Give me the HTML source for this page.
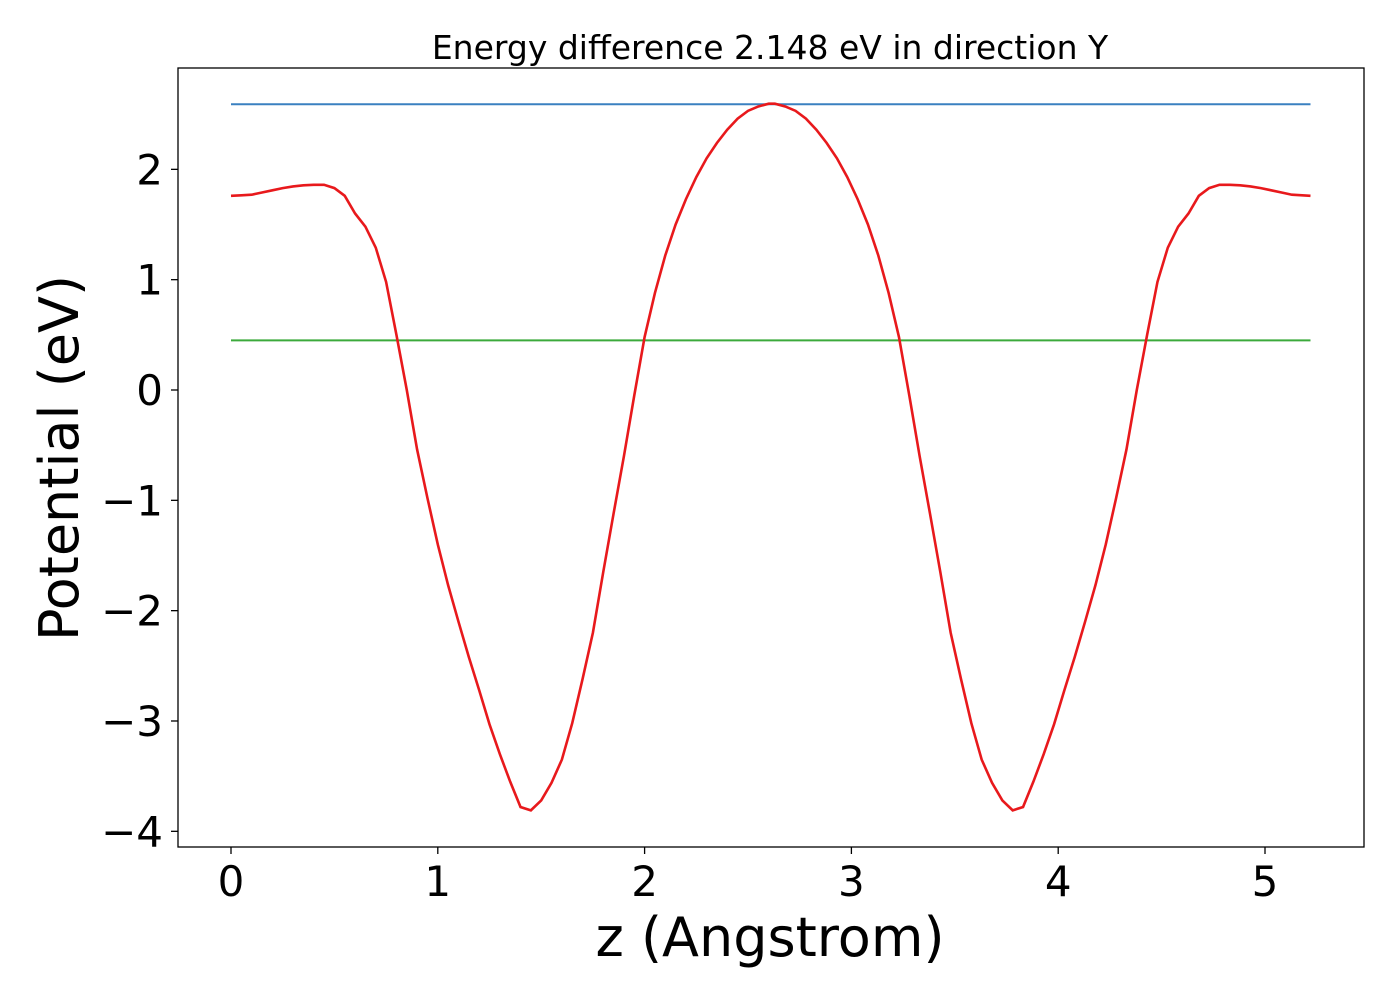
<!DOCTYPE html>
<html><head><meta charset="utf-8"><style>
body{margin:0;background:#fff;}
svg text{font-family:"DejaVu Sans","Liberation Sans",sans-serif;fill:#000;}
</style></head><body>
<svg id="chart" width="1400" height="1000">
<rect x="0" y="0" width="1400" height="1000" fill="#fff"/>
<g id="plot"></g>
<rect x="178" y="68" width="1186" height="779" fill="none" stroke="#000" stroke-width="1.3"/>
<g id="xt"></g>
<g id="yt"></g>
<text x="770" y="59" font-size="33" text-anchor="middle">Energy difference 2.148 eV in direction Y</text>
<text x="770" y="956" font-size="54" text-anchor="middle">z (Angstrom)</text>
<text transform="translate(78,458) rotate(-90)" font-size="54" text-anchor="middle">Potential (eV)</text>
</svg>
<script>
const zLeft=[0,0.05,0.1,0.15,0.2,0.25,0.3,0.35,0.4,0.45,0.5,0.55,0.6,0.65,0.7,0.75,0.8,0.85,0.9,0.95,1.0,1.05,1.1,1.15,1.2,1.25,1.3,1.35,1.4,1.45,1.5,1.55,1.6,1.65,1.7,1.75,1.8,1.85,1.9,1.95,2.0,2.05,2.1,2.15,2.2,2.25,2.3,2.35,2.4,2.45,2.5,2.55,2.6];
const vLeft=[1.76,1.765,1.77,1.79,1.81,1.83,1.845,1.855,1.86,1.86,1.83,1.76,1.6,1.48,1.29,0.98,0.5,0.0,-0.54,-0.98,-1.4,-1.77,-2.1,-2.42,-2.72,-3.03,-3.3,-3.55,-3.78,-3.81,-3.72,-3.56,-3.35,-3.02,-2.62,-2.2,-1.65,-1.12,-0.6,-0.05,0.48,0.88,1.22,1.5,1.73,1.93,2.1,2.24,2.36,2.46,2.53,2.57,2.595];
const zRight=[2.63,2.68,2.73,2.78,2.83,2.88,2.93,2.98,3.03,3.08,3.13,3.18,3.23,3.28,3.33,3.38,3.43,3.48,3.53,3.58,3.63,3.68,3.73,3.78,3.83,3.88,3.93,3.98,4.03,4.08,4.13,4.18,4.23,4.28,4.33,4.38,4.43,4.48,4.53,4.58,4.63,4.68,4.73,4.78,4.83,4.88,4.93,4.98,5.03,5.08,5.13,5.18,5.22];
const vRight=[2.595,2.57,2.53,2.46,2.36,2.24,2.1,1.93,1.73,1.5,1.22,0.88,0.48,-0.05,-0.6,-1.12,-1.65,-2.2,-2.62,-3.02,-3.35,-3.56,-3.72,-3.81,-3.78,-3.55,-3.3,-3.03,-2.72,-2.42,-2.1,-1.77,-1.4,-0.98,-0.54,0.0,0.5,0.98,1.29,1.48,1.6,1.76,1.83,1.86,1.86,1.855,1.845,1.83,1.81,1.79,1.77,1.765,1.76];
const blueLevel=2.59, greenLevel=0.45, zMin=0, zMax=5.22;
const xTicks=[0,1,2,3,4,5];
const yTicks=[2,1,0,-1,-2,-3,-4];
const X=z=>231+z*206.8;
const Y=v=>390-v*110.33;
const NS="http://www.w3.org/2000/svg";
const plot=document.getElementById('plot');
function line(x1,y1,x2,y2,c,w,name,parent){const l=document.createElementNS(NS,'line');l.setAttribute('x1',x1);l.setAttribute('y1',y1);l.setAttribute('x2',x2);l.setAttribute('y2',y2);l.setAttribute('stroke',c);l.setAttribute('stroke-width',w);


parent.appendChild(l);}
line(X(zMin),Y(blueLevel),X(zMax),Y(blueLevel),'#3a80c0',2,'blue-level-line',plot);
line(X(zMin),Y(greenLevel),X(zMax),Y(greenLevel),'#3caa3c',2,'green-level-line',plot);
const zs=zLeft.concat(zRight), vs=vLeft.concat(vRight);
const p=document.createElementNS(NS,'polyline');
p.setAttribute('points',zs.map((z,i)=>X(z)+','+Y(vs[i])).join(' '));
p.setAttribute('fill','none');p.setAttribute('stroke','#e8191c');p.setAttribute('stroke-width','2.6');


plot.appendChild(p);
const xt=document.getElementById('xt'),yt=document.getElementById('yt');
xTicks.forEach(t=>{line(X(t),847,X(t),854,'#000',1.3,'x-tick-mark',xt);
const tx=document.createElementNS(NS,'text');tx.setAttribute('x',X(t));tx.setAttribute('y',896);tx.setAttribute('font-size','42');tx.setAttribute('text-anchor','middle');tx.textContent=t;


xt.appendChild(tx);});
yTicks.forEach(t=>{line(171,Y(t),178,Y(t),'#000',1.3,'y-tick-mark',yt);
const tx=document.createElementNS(NS,'text');tx.setAttribute('x',163);tx.setAttribute('y',Y(t)+15);tx.setAttribute('font-size','42');tx.setAttribute('text-anchor','end');tx.textContent=t<0?'\u2212'+Math.abs(t):String(t);


yt.appendChild(tx);});
</script>
</body></html>
